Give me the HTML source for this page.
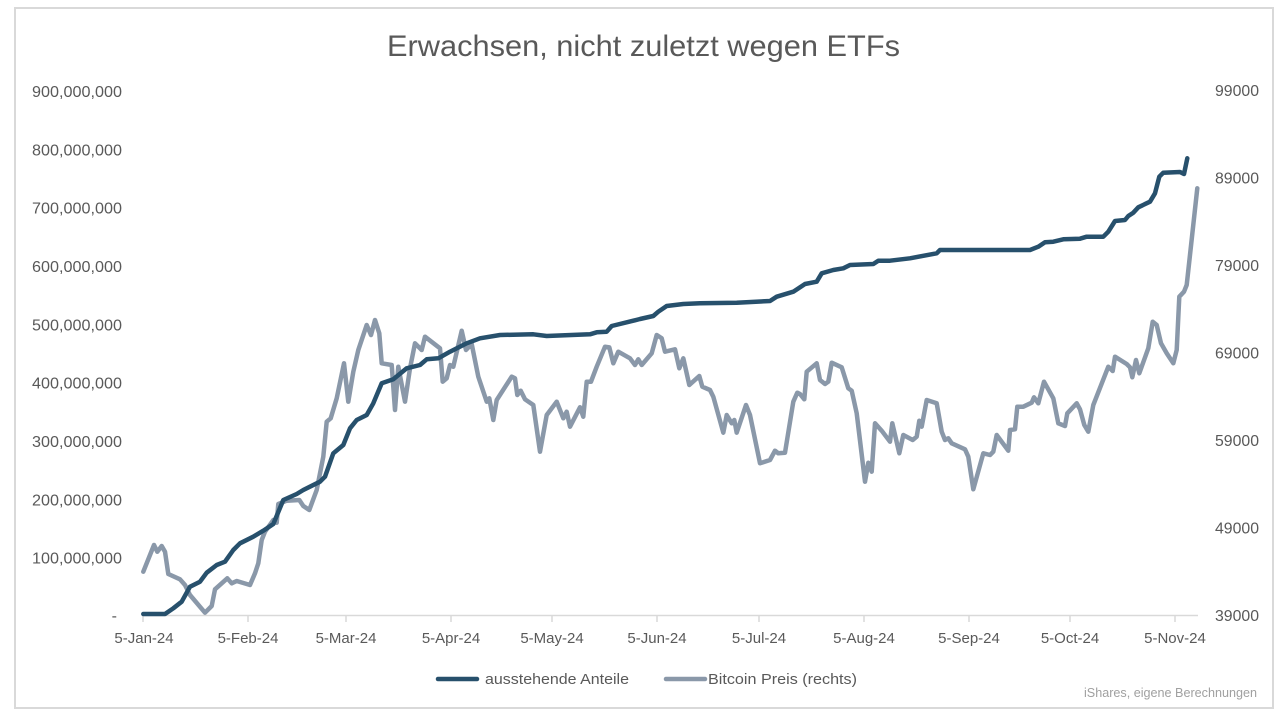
<!DOCTYPE html>
<html>
<head>
<meta charset="utf-8">
<style>
html,body{margin:0;padding:0;background:#fff;}
svg{display:block;}
text{font-family:"Liberation Sans",sans-serif;fill:#595959;}
</style>
</head>
<body>
<svg width="1282" height="716" viewBox="0 0 1282 716" xmlns="http://www.w3.org/2000/svg">
<rect x="0" y="0" width="1282" height="716" fill="#fff"/>
<rect x="15" y="8" width="1258" height="700" fill="#fff" stroke="#d9d9d9" stroke-width="2"/>

<text x="387" y="56" font-size="30" textLength="513" lengthAdjust="spacingAndGlyphs">Erwachsen, nicht zuletzt wegen ETFs</text>

<!-- left axis labels -->
<g font-size="16" text-anchor="end">
<text x="122" y="97" textLength="90" lengthAdjust="spacingAndGlyphs">900,000,000</text>
<text x="122" y="155.3" textLength="90" lengthAdjust="spacingAndGlyphs">800,000,000</text>
<text x="122" y="213.7" textLength="90" lengthAdjust="spacingAndGlyphs">700,000,000</text>
<text x="122" y="272" textLength="90" lengthAdjust="spacingAndGlyphs">600,000,000</text>
<text x="122" y="330.3" textLength="90" lengthAdjust="spacingAndGlyphs">500,000,000</text>
<text x="122" y="388.7" textLength="90" lengthAdjust="spacingAndGlyphs">400,000,000</text>
<text x="122" y="447" textLength="90" lengthAdjust="spacingAndGlyphs">300,000,000</text>
<text x="122" y="505.3" textLength="90" lengthAdjust="spacingAndGlyphs">200,000,000</text>
<text x="122" y="563.7" textLength="90" lengthAdjust="spacingAndGlyphs">100,000,000</text>
<text x="117" y="621">-</text>
</g>

<!-- right axis labels -->
<g font-size="16">
<text x="1215" y="96" textLength="44" lengthAdjust="spacingAndGlyphs">99000</text>
<text x="1215" y="183.5" textLength="44" lengthAdjust="spacingAndGlyphs">89000</text>
<text x="1215" y="271" textLength="44" lengthAdjust="spacingAndGlyphs">79000</text>
<text x="1215" y="358.5" textLength="44" lengthAdjust="spacingAndGlyphs">69000</text>
<text x="1215" y="446" textLength="44" lengthAdjust="spacingAndGlyphs">59000</text>
<text x="1215" y="533.5" textLength="44" lengthAdjust="spacingAndGlyphs">49000</text>
<text x="1215" y="621" textLength="44" lengthAdjust="spacingAndGlyphs">39000</text>
</g>

<!-- x axis -->
<line x1="143" y1="615.5" x2="1198" y2="615.5" stroke="#d9d9d9" stroke-width="1.5"/>
<g stroke="#d9d9d9" stroke-width="1.5">
<line x1="143" y1="615" x2="143" y2="622"/>
<line x1="248" y1="615" x2="248" y2="622"/>
<line x1="346" y1="615" x2="346" y2="622"/>
<line x1="451" y1="615" x2="451" y2="622"/>
<line x1="552" y1="615" x2="552" y2="622"/>
<line x1="657" y1="615" x2="657" y2="622"/>
<line x1="759" y1="615" x2="759" y2="622"/>
<line x1="864" y1="615" x2="864" y2="622"/>
<line x1="969" y1="615" x2="969" y2="622"/>
<line x1="1070" y1="615" x2="1070" y2="622"/>
<line x1="1175" y1="615" x2="1175" y2="622"/>
</g>
<g font-size="15" text-anchor="middle">
<text x="144" y="643">5-Jan-24</text>
<text x="248" y="643">5-Feb-24</text>
<text x="346" y="643">5-Mar-24</text>
<text x="451" y="643">5-Apr-24</text>
<text x="552" y="643">5-May-24</text>
<text x="657" y="643">5-Jun-24</text>
<text x="759" y="643">5-Jul-24</text>
<text x="864" y="643">5-Aug-24</text>
<text x="969" y="643">5-Sep-24</text>
<text x="1070" y="643">5-Oct-24</text>
<text x="1175" y="643">5-Nov-24</text>
</g>

<!-- Bitcoin series -->
<polyline fill="none" stroke="#8a98a9" stroke-width="4.5" stroke-linejoin="round" stroke-linecap="round" points="
143.3,571.7 154,545 157.3,551.7 161.7,546 165,551.7 168.3,574 180,579.3 185,585 190,595 205,612.7 211.7,606 215,589.3 227.3,578.3 231.7,583.3 236.7,581 250,585 255,573.3 258.3,563.3 261.7,540 265,531.7 273.3,520 276.7,522.7 278.3,504 286.7,500.7 299.3,500 303.3,506 309.3,510 316.7,490 323.3,456.7 326.7,421.7 330.7,418.3 336.7,398.3 344,363.3 348.3,401.7 353.3,371.7 358.3,350 366.7,325 371,335 375,320 379.3,333.3 381.7,363.3 391.7,365 395,410 398.3,366.7 405,401.7 410,368.3 415,343.3 421.7,350 425,336.7 440,348.3 442.7,381.7 446.7,378.3 450,365 453.3,366.7 461.7,330.7 466,350 471.7,344 478.3,376.7 486.7,401.7 489.3,398.3 493.3,420 496.7,400 511.7,376.7 515,378.3 517.3,395 520.7,390.7 525,399.3 533.3,405 540,451.7 546.7,415 556.7,401.7 563.3,418.3 566.7,411.7 570,426.7 580,407.3 583.3,416.7 586.7,381.7 591,381.7 596.7,366.7 605,346.7 609.3,347.3 613.3,363.3 618.3,351.7 630,358.3 635,365 638.3,359.3 641.7,365 651.7,353.3 656.7,335 661.7,338.3 665,351.7 675,349.3 679.3,368.3 683.3,358.3 689.3,385 699.3,376 702.3,386.7 710,390 713.3,396.7 723.3,432.7 726.7,415 731.7,423.3 734.3,420 736.7,432.7 746,405 750,415 760,463.3 770,460 775,450.7 778.3,453.3 785,452.7 793.3,401.7 797.3,392.7 800,394 804.3,399.3 806.7,371.7 816.7,363.3 820,380 825,384 828.3,381.7 831.7,362.7 841.7,367.3 848.3,388.3 851.7,390.7 856.7,413.3 865,481.7 868.3,462.7 871.7,471.7 875,423.3 881.7,430.7 890,441.7 892.3,423.3 899.3,453.3 903.3,435 912.7,440 916.7,436.7 919.3,420.7 921.7,426.7 926.7,400 936.7,403.3 941.7,431.7 945,440 948.3,438.3 951.7,443.3 965,449.3 968.3,456.7 973.3,489.3 983.3,453.3 990,455 993.3,451.7 996.7,435 1008.3,450.7 1010,430 1015,429.3 1017.3,406.7 1023.3,406.7 1031.7,402.7 1034,397.3 1038.3,403.3 1044,381.7 1053.3,398.3 1058.3,423.3 1065,426 1067.3,413.3 1076.7,403.3 1080,409.3 1084.3,425 1088.3,431.7 1093.3,405 1108.3,366.7 1112.7,371 1115,356.7 1126.7,364 1130,367.3 1132.3,377.3 1136,360 1139.3,373.3 1148.3,348.3 1152.7,321.7 1156.7,325 1161,343.3 1166.7,353.3 1173.3,363.3 1176.7,350 1179.3,296.7 1184,291.7 1186.7,285 1197.3,188.3"/>

<!-- Outstanding shares series -->
<polyline fill="none" stroke="#27506c" stroke-width="4.5" stroke-linejoin="round" stroke-linecap="round" points="
143.3,614 165,614 173.3,608.3 181.7,601.7 190,586.7 200,581.7 206.7,572.7 216.7,565 225,561.7 233.3,550 240,543.3 253.3,536.7 263.3,530.7 273.3,524 283.3,500 296.7,494 303.3,490 320,481.7 325,476.7 333.3,453.3 343.3,445 350,428.3 356.7,420 366.7,415 373.3,403.3 381.7,383.3 393.3,379.3 406.7,368.3 420,365 426.7,359.3 438.3,358.3 450,351.7 466.7,343.3 480,338.3 500,335 533.3,334.3 546.7,336 590,334.3 596.7,332.3 606.7,331.7 611.7,326 633.3,320.7 640,319 653.3,316 658.3,311.7 666.7,306 683.3,304 700,303.3 736.7,302.7 770,301 776.7,296.7 793.3,291.7 805,284 816.7,281.7 821.7,273.3 833.3,270 843.3,268.3 850,265 873.3,264 878.3,260.7 890,260.7 910,258.3 936.7,253.3 940,250 1030,250 1038.3,246.7 1045,242.3 1053.3,241.7 1063.3,239.3 1080,238.7 1086.7,236.7 1103.3,236.7 1108.3,231.7 1115,221 1125,220 1128.3,216 1133.3,212.7 1138.3,207.3 1150,201.7 1155,193.3 1159.3,176.7 1163.3,172.7 1180,172 1184,174 1187.3,158.3"/>

<!-- legend -->
<line x1="438" y1="679" x2="477" y2="679" stroke="#27506c" stroke-width="4.5" stroke-linecap="round"/>
<text x="485" y="684" font-size="15" textLength="144" lengthAdjust="spacingAndGlyphs">ausstehende Anteile</text>
<line x1="666" y1="679" x2="705" y2="679" stroke="#8a98a9" stroke-width="4.5" stroke-linecap="round"/>
<text x="708" y="684" font-size="15" textLength="149" lengthAdjust="spacingAndGlyphs">Bitcoin Preis (rechts)</text>

<text x="1084" y="697" font-size="13" fill="#a0a0a0" style="fill:#a0a0a0" textLength="173" lengthAdjust="spacingAndGlyphs">iShares, eigene Berechnungen</text>
</svg>
</body>
</html>
